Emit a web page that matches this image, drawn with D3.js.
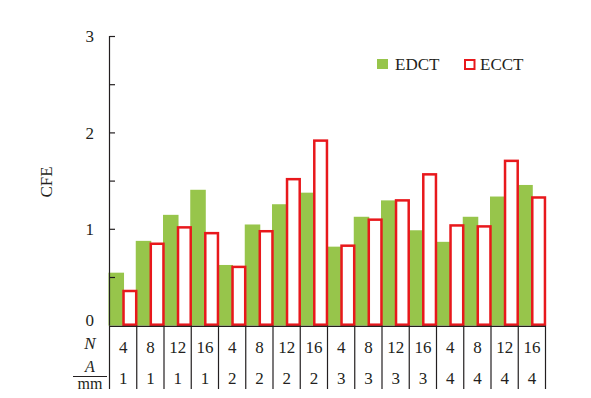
<!DOCTYPE html>
<html><head><meta charset="utf-8">
<script src="https://cdn.jsdelivr.net/npm/d3@7"></script>
<style>body{margin:0;background:#fff}text{font-family:"Liberation Serif","Times New Roman",serif;fill:#231f20}</style>
</head><body><svg id="c" width="591" height="398"></svg>
<script>
const nLabels = ["4","8","12","16","4","8","12","16","4","8","12","16","4","8","12","16"];
const aLabels = ["1","1","1","1","2","2","2","2","3","3","3","3","4","4","4","4"];
const edct = [0.55,0.88,1.15,1.41,0.63,1.05,1.26,1.38,0.82,1.13,1.30,0.99,0.87,1.13,1.34,1.46];
const ecct = [0.36,0.85,1.02,0.96,0.61,0.98,1.52,1.92,0.83,1.10,1.30,1.57,1.04,1.03,1.71,1.33];
const yTicks = [0,1,2,3];
const yMinor = [0.5,1,1.5,2,2.5,3];
const seriesNames = ["EDCT","ECCT"];

const GREEN = "#97c54b", RED = "#e8181c", INK = "#231f20";
const FS = 17;
const svg = d3.select("#c");
const x = d3.scaleBand().domain(d3.range(edct.length)).range([109.5, 545.5]).padding(0);
const y = d3.scaleLinear().domain([0,3]).range([325.7, 36.5]);
const bw = x.bandwidth();

// green bars
svg.append("g").selectAll("rect").data(edct).join("rect")
  .attr("x", (d,i)=>x(i)-1).attr("width", bw*0.57)
  .attr("y", d=>y(d)).attr("height", d=>y(0)-y(d)).attr("fill", GREEN);
// red outlined bars
svg.append("g").selectAll("rect").data(ecct).join("rect")
  .attr("x", (d,i)=>x(i)+bw*0.515).attr("width", bw*0.465)
  .attr("y", d=>y(d)).attr("height", d=>y(0)-y(d)-1)
  .attr("fill", "#fff").attr("stroke", RED).attr("stroke-width", 2.5);

// y axis
const ax = svg.append("g");
ax.append("line").attr("x1",109.5).attr("x2",109.5).attr("y1",y(3)-0.5).attr("y2",y(0)).attr("stroke",INK).attr("stroke-width",1.2);
ax.selectAll("line.t").data(yMinor).join("line").attr("class","t")
  .attr("x1",109.5).attr("x2",115).attr("y1",d=>y(d)).attr("y2",d=>y(d)).attr("stroke",INK).attr("stroke-width",1.2);
ax.selectAll("text").data(yTicks).join("text")
  .attr("x",94).attr("y",d=>d===0? y(d)-6 : y(d)).attr("dy","0.35em")
  .attr("text-anchor","end").attr("font-size",FS).text(d=>d);
svg.append("text").attr("transform","translate(52,182) rotate(-90)")
  .attr("text-anchor","middle").attr("font-size",FS).text("CFE");

// x axis
svg.append("line").attr("x1",109).attr("x2",545.5).attr("y1",y(0)+0.6).attr("y2",y(0)+0.6).attr("stroke",INK).attr("stroke-width",1.2);
const bounds = d3.range(edct.length+1).map(i => i<edct.length ? x(i) : x(i-1)+bw);
svg.append("g").selectAll("line").data(bounds).join("line")
  .attr("x1",d=>d).attr("x2",d=>d).attr("y1",y(0)).attr("y2",389).attr("stroke",INK).attr("stroke-width",1.2);
svg.append("g").selectAll("text").data(nLabels).join("text")
  .attr("x",(d,i)=>x(i)+bw/2).attr("y",352.5).attr("text-anchor","middle").attr("font-size",FS).text(d=>d);
svg.append("g").selectAll("text").data(aLabels).join("text")
  .attr("x",(d,i)=>x(i)+bw/2).attr("y",384).attr("text-anchor","middle").attr("font-size",FS).text(d=>d);
svg.append("text").attr("x",90).attr("y",349).attr("text-anchor","middle").attr("font-size",FS).attr("font-style","italic").text("N");
svg.append("text").attr("x",90).attr("y",372).attr("text-anchor","middle").attr("font-size",16).attr("font-style","italic").text("A");
svg.append("line").attr("x1",73).attr("x2",107).attr("y1",376.5).attr("y2",376.5).attr("stroke",INK).attr("stroke-width",1.1);
svg.append("text").attr("x",90).attr("y",389).attr("text-anchor","middle").attr("font-size",16).text("mm");

// legend
const lg = svg.append("g");
lg.append("rect").attr("x",377).attr("y",59).attr("width",11).attr("height",10).attr("fill",GREEN);
lg.append("text").attr("x",395).attr("y",70).attr("font-size",FS).text(seriesNames[0]);
lg.append("rect").attr("x",465).attr("y",60).attr("width",9.5).attr("height",9).attr("fill","#fff").attr("stroke",RED).attr("stroke-width",2);
lg.append("text").attr("x",480).attr("y",70).attr("font-size",FS).text(seriesNames[1]);
</script></body></html>
